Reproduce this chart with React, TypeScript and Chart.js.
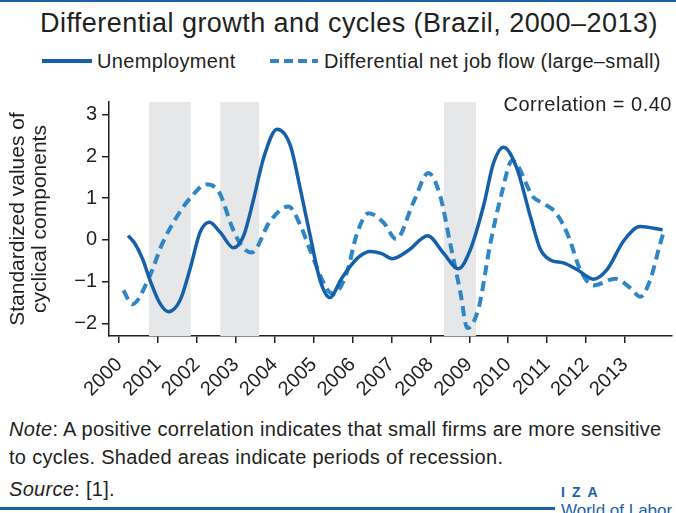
import React, { useEffect, useRef } from 'react';
import { Chart, registerables } from 'chart.js';

Chart.register(...registerables);

const FONT = '"Liberation Sans", Arial, sans-serif';
const INK = '#231f20';
const SOLID_COLOR = '#1660a9';
const DASH_COLOR = '#2e86c6';
const SHADE = '#e6e7e8';
const BRAND = '#1d62a8';

const yearTicks = [2000, 2001, 2002, 2003, 2004, 2005, 2006, 2007, 2008, 2009, 2010, 2011, 2012, 2013];
const valueTicks = [-2, -1, 0, 1, 2, 3];

const recessionStart = [2000.77, 2002.6, 2008.35];
const recessionEnd = [2001.84, 2003.6, 2009.17];

const unempYears = [2000.23, 2000.4, 2000.6, 2000.8, 2001.05, 2001.27, 2001.57, 2001.83, 2002.08, 2002.32, 2002.6, 2002.94, 2003.2, 2003.45, 2003.71, 2004.06, 2004.4, 2004.65, 2004.91, 2005.17, 2005.42, 2005.7, 2005.95, 2006.2, 2006.45, 2006.75, 2007.02, 2007.44, 2007.93, 2008.34, 2008.72, 2009.02, 2009.37, 2009.62, 2009.88, 2010.22, 2010.57, 2010.82, 2011.08, 2011.42, 2011.77, 2012.19, 2012.54, 2012.97, 2013.39, 2013.97];
const unempValues = [0.1, -0.08, -0.45, -0.98, -1.52, -1.72, -1.44, -0.67, 0.18, 0.42, 0.18, -0.19, 0.1, 0.95, 1.95, 2.65, 2.26, 1.25, 0.1, -0.98, -1.38, -0.95, -0.62, -0.38, -0.28, -0.33, -0.45, -0.25, 0.1, -0.32, -0.69, -0.25, 0.83, 1.83, 2.22, 1.72, 0.56, -0.21, -0.48, -0.55, -0.71, -0.94, -0.71, -0.02, 0.32, 0.24];

const flowYears = [2000.11, 2000.34, 2000.77, 2001.11, 2001.46, 2001.88, 2002.23, 2002.57, 2002.91, 2003.17, 2003.41, 2003.88, 2004.35, 2004.65, 2004.91, 2005.34, 2005.51, 2005.85, 2006.11, 2006.41, 2006.8, 2007.12, 2007.57, 2007.95, 2008.25, 2008.51, 2008.77, 2008.95, 2009.24, 2009.54, 2009.84, 2010.1, 2010.65, 2010.91, 2011.25, 2011.55, 2011.85, 2012.19, 2012.75, 2013.14, 2013.39, 2013.65, 2013.86, 2013.98];
const flowValues = [-1.21, -1.54, -0.9, -0.09, 0.52, 1.06, 1.33, 1.14, 0.29, -0.17, -0.3, 0.45, 0.8, 0.37, -0.25, -1.17, -1.29, -0.79, 0.14, 0.64, 0.41, 0.02, 0.91, 1.6, 1.06, -0.09, -1.25, -2.11, -1.63, -0.09, 1.14, 1.9, 1.02, 0.87, 0.62, 0.08, -0.71, -1.09, -0.93, -1.15, -1.36, -0.96, -0.25, 0.15];

const seriesNames = ['Unemployment', 'Differential net job flow (large–small)'];
const yTitleLines = ['Standardized values of', 'cyclical components'];

const shadePlugin = {
  id: 'recessionShade',
  beforeDatasetsDraw(chart: any) {
    const { ctx, chartArea, scales } = chart;
    ctx.save();
    ctx.fillStyle = SHADE;
    recessionStart.forEach((s, i) => {
      const x0 = scales.x.getPixelForValue(s);
      const x1 = scales.x.getPixelForValue(recessionEnd[i]);
      ctx.fillRect(x0, chartArea.top, x1 - x0, chartArea.bottom - chartArea.top);
    });
    ctx.restore();
  },
};

const fmt = (v: number) => (v < 0 ? '\u2212' + Math.abs(v) : String(v));

export default function App() {
  const ref = useRef<HTMLCanvasElement>(null);
  useEffect(() => {
    const chart = new Chart(ref.current!, {
      type: 'line',
      data: {
        datasets: [
          {
            label: seriesNames[0],
            data: unempYears.map((x, i) => ({ x, y: unempValues[i] })),
            borderColor: SOLID_COLOR,
            borderWidth: 3.5,
            pointRadius: 0,
            cubicInterpolationMode: 'monotone',
            fill: false,
          },
          {
            label: seriesNames[1],
            data: flowYears.map((x, i) => ({ x, y: flowValues[i] })),
            borderColor: DASH_COLOR,
            borderWidth: 4,
            borderDash: [10, 6],
            pointRadius: 0,
            cubicInterpolationMode: 'monotone',
            fill: false,
          },
        ],
      },
      options: {
        responsive: false,
        animation: false,
        layout: { padding: { top: 8, right: 4, left: 0, bottom: 0 } },
        plugins: { legend: { display: false }, title: { display: false }, tooltip: { enabled: false } },
        scales: {
          x: {
            type: 'linear',
            min: 1999.74,
            max: 2014.21,
            afterBuildTicks: (s: any) => {
              s.ticks = yearTicks.map((v) => ({ value: v }));
            },
            afterFit: (s: any) => {
              s.height = 79;
            },
            ticks: {
              minRotation: 45,
              maxRotation: 45,
              autoSkip: false,
              color: INK,
              padding: 10,
              font: { family: FONT, size: 20 },
              callback: (v: any) => String(v),
            },
            grid: { display: true, drawOnChartArea: false, drawTicks: true, tickLength: 7, color: INK, lineWidth: 1.5 },
            border: { display: true, color: INK, width: 1.5 },
          },
          y: {
            type: 'linear',
            min: -2.3,
            max: 3.3,
            afterBuildTicks: (s: any) => {
              s.ticks = valueTicks.map((v) => ({ value: v }));
            },
            afterFit: (s: any) => {
              s.width = 109;
            },
            ticks: {
              color: INK,
              padding: 5,
              font: { family: FONT, size: 20 },
              callback: (v: any) => fmt(Number(v)),
            },
            grid: { display: true, drawOnChartArea: false, drawTicks: true, tickLength: 7, color: INK, lineWidth: 1.5 },
            border: { display: true, color: INK, width: 1.5 },
            title: {
              display: true,
              text: yTitleLines,
              color: INK,
              font: { family: FONT, size: 21, lineHeight: 1.05 },
              padding: { top: 7, bottom: 0 },
            },
          },
        },
      },
      plugins: [shadePlugin],
    } as any);
    return () => chart.destroy();
  }, []);

  return (
    <div style={{ position: 'fixed', left: 0, top: 0, width: 676, height: 513, background: '#fff', overflow: 'hidden', fontFamily: FONT, color: INK }}>
      <div style={{ position: 'absolute', left: 0, top: 0, width: 676, height: 2, background: BRAND }} />
      <div style={{ position: 'absolute', left: 40, top: 7, whiteSpace: 'nowrap', fontSize: 27, lineHeight: '32px', letterSpacing: 0.45 }}>
        Differential growth and cycles (Brazil, 2000–2013)
      </div>
      <svg style={{ position: 'absolute', left: 0, top: 52 }} width={676} height={20}>
        <line x1={42} y1={9} x2={92} y2={9} stroke={SOLID_COLOR} strokeWidth={4} />
        <line x1={270} y1={9} x2={318} y2={9} stroke={DASH_COLOR} strokeWidth={4} strokeDasharray="9 5" />
      </svg>
      <div style={{ position: 'absolute', left: 97, top: 49, whiteSpace: 'nowrap', fontSize: 20, lineHeight: '24px', letterSpacing: 0.35 }}>{seriesNames[0]}</div>
      <div style={{ position: 'absolute', left: 324, top: 49, whiteSpace: 'nowrap', fontSize: 20, lineHeight: '24px', letterSpacing: 0.35 }}>{seriesNames[1]}</div>
      <div style={{ position: 'absolute', left: 0, top: 85, width: 676, height: 330 }}>
        <canvas ref={ref} width={676} height={330} style={{ display: 'block' }} />
      </div>
      <div style={{ position: 'absolute', right: 4, top: 92, whiteSpace: 'nowrap', fontSize: 20, lineHeight: '24px', letterSpacing: 0.5 }}>Correlation = 0.40</div>
      <div style={{ position: 'absolute', left: 9, top: 415, width: 667, fontSize: 20, lineHeight: '28px', letterSpacing: 0.3, whiteSpace: 'nowrap' }}>
        <i>Note</i>: A positive correlation indicates that small firms are more sensitive
        <br />
        to cycles. Shaded areas indicate periods of recession.
      </div>
      <div style={{ position: 'absolute', left: 9, top: 475, fontSize: 20, lineHeight: '28px', letterSpacing: 0.3, whiteSpace: 'nowrap' }}>
        <i>Source</i>: [1].
      </div>
      <div style={{ position: 'absolute', left: 0, top: 507, width: 555, height: 2.5, background: BRAND }} />
      <div style={{ position: 'absolute', left: 561, top: 484, fontSize: 14, lineHeight: '16px', fontWeight: 'bold', color: BRAND, letterSpacing: 7, whiteSpace: 'nowrap' }}>IZA</div>
      <div style={{ position: 'absolute', left: 561, top: 501, fontSize: 17, lineHeight: '20px', color: BRAND, whiteSpace: 'nowrap' }}>World of Labor</div>
    </div>
  );
}
